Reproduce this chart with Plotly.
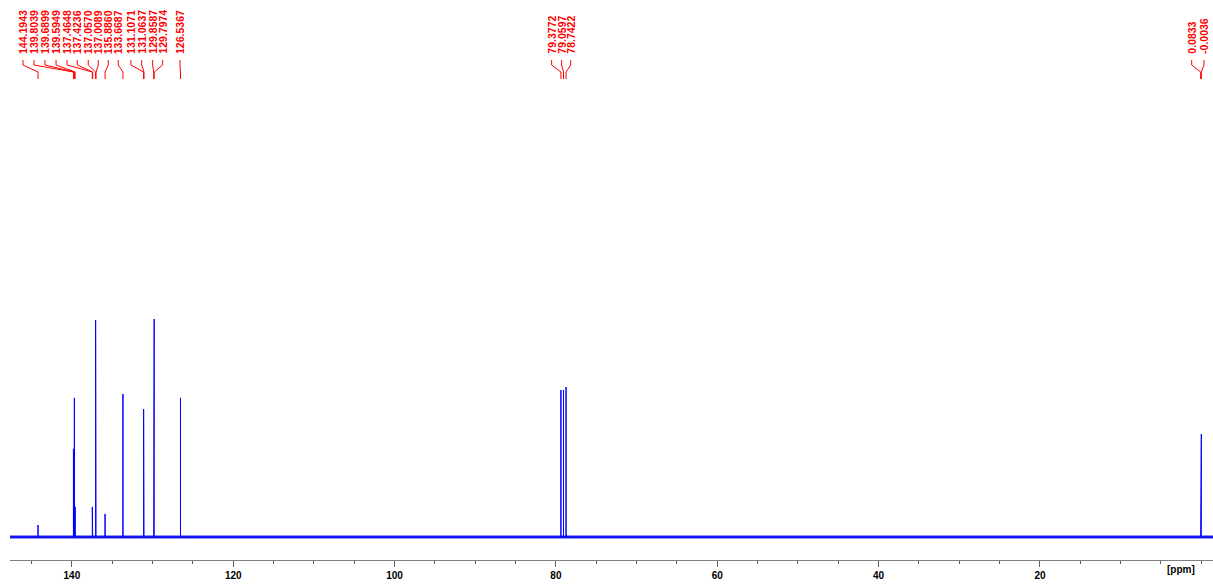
import plotly.graph_objects as go

# ---------------- data ----------------
PEAK_PPM = [144.1943, 139.8039, 139.6899, 139.5949, 137.4648, 137.4236,
            137.0570, 137.0089, 135.8860, 133.6687, 131.1071, 131.0637,
            129.8587, 129.7974, 126.5367, 79.3772, 79.0597, 78.7422,
            0.0833, -0.0036]
PEAK_INTENSITY = [5.5, 40.4, 63.8, 13.8, 13.8, 10.1,
                  99.5, 81.2, 10.6, 65.6, 58.7, 37.6,
                  76.1, 100.0, 63.8, 67.4, 67.4, 68.8,
                  23.9, 47.2]
PEAK_LABELS = ["144.1943", "139.8039", "139.6899", "139.5949", "137.4648", "137.4236",
               "137.0570", "137.0089", "135.8860", "133.6687", "131.1071", "131.0637",
               "129.8587", "129.7974", "126.5367", "79.3772", "79.0597", "78.7422",
               "0.0833", "-0.0036"]
TICK_VALUES = [140, 120, 100, 80, 60, 40, 20]
TICK_TEXT = ["140", "120", "100", "80", "60", "40", "20"]

# ---------------- layout (label slots, in ppm along the axis) ----------------
LABEL_SLOTS = [146.06, 144.70, 143.34, 141.96, 140.60, 139.33, 137.97, 136.73,
               135.49, 134.25, 132.68, 131.35, 129.99, 128.75, 126.60,
               80.53, 79.29, 78.17, 1.19, -0.33]
X_RANGE = [147.67, -1.45]
Y_RANGE = [-10.55, 246.3]
W, H = 1213, 585
M_L, M_R, M_T, M_B = 10, 0, 0, 25
PLOT_H = H - M_T - M_B

BLUE = "#0000ff"
RED = "#ff0000"

# build stick spectrum from the peak list
order = sorted(range(len(PEAK_PPM)), key=lambda i: -PEAK_PPM[i])
xs = [X_RANGE[0]]
ys = [0.0]
for i in order:
    p, h = PEAK_PPM[i], PEAK_INTENSITY[i]
    xs += [p, p, p]
    ys += [0.0, h, 0.0]
xs.append(X_RANGE[1])
ys.append(0.0)

fig = go.Figure()
# baseline band (visual thickness of the noisy baseline)
fig.add_trace(go.Scatter(x=[X_RANGE[0], X_RANGE[1]], y=[0.0, 0.0], mode="lines",
                         line=dict(color=BLUE, width=3), opacity=0.85,
                         hoverinfo="skip", showlegend=False))
fig.add_trace(go.Scatter(x=xs, y=ys, mode="lines",
                         line=dict(color=BLUE, width=1), hoverinfo="skip",
                         showlegend=False))


def py(px_from_top):
    return 1 - (px_from_top - M_T) / PLOT_H


shapes = []
annotations = []
for slot, p, lab in zip(LABEL_SLOTS, PEAK_PPM, PEAK_LABELS):
    annotations.append(dict(
        x=slot, xref="x", y=py(55), yref="paper",
        text=lab, textangle=-90, showarrow=False,
        xanchor="center", yanchor="bottom", borderpad=0,
        font=dict(family="Liberation Sans", size=10.5, color=RED, weight="bold"),
    ))
    shapes.append(dict(
        type="path", xref="x", yref="paper",
        path=f"M {slot},{py(60)} L {slot},{py(65)} L {p},{py(72)} L {p},{py(79)}",
        line=dict(color=RED, width=1),
    ))

annotations.append(dict(
    x=(1197 - M_L) / (W - M_L - M_R), xref="paper", y=py(577), yref="paper",
    text="[ppm]", showarrow=False,
    font=dict(family="Liberation Sans", size=10, color="#000000", weight="bold"),
))

fig.update_layout(
    width=W, height=H,
    margin=dict(l=M_L, r=M_R, t=M_T, b=M_B),
    paper_bgcolor="white", plot_bgcolor="white",
    showlegend=False,
    xaxis=dict(
        range=X_RANGE, showgrid=False, zeroline=False,
        showline=True, linecolor="#808080", linewidth=1,
        tickmode="array", tickvals=TICK_VALUES, ticktext=TICK_TEXT,
        ticks="outside", ticklen=6, tickcolor="#606060", tickwidth=1,
        tickfont=dict(family="Liberation Sans", size=10, color="#000000", weight="bold"),
        minor=dict(dtick=5, ticks="outside", ticklen=3, tickcolor="#606060", tickwidth=1),
    ),
    yaxis=dict(range=Y_RANGE, visible=False, showgrid=False, zeroline=False),
    shapes=shapes,
    annotations=annotations,
)

fig.write_html("out.html")
